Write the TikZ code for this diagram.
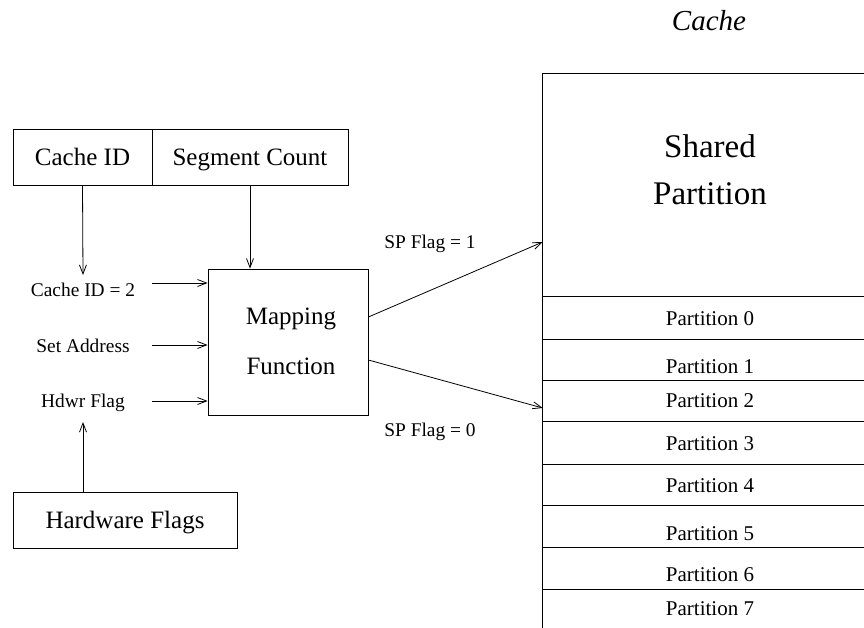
\documentclass[tikz,border=0pt]{standalone}
\usepackage{fontspec}
\setmainfont{Liberation Serif}
\usetikzlibrary{arrows.meta,calc}
\begin{document}
\begin{tikzpicture}[x=1pt,y=-1pt,
  line width=0.8pt,
  arr/.style={-{Straight Barb[length=9pt,width=7pt,line width=0.8pt]}},
  box/.style={draw,inner sep=0pt,text height=17pt,text depth=0pt,font=\fontsize{25}{30}\selectfont},
  small/.style={anchor=base,inner sep=0pt,font=\fontsize{19.4}{23}\selectfont},
  part/.style={anchor=base,inner sep=0pt,font=\fontsize{21}{25}\selectfont},
  big/.style={anchor=base,inner sep=0pt,font=\fontsize{33}{40}\selectfont},
  mid/.style={anchor=base,inner sep=0pt,font=\fontsize{25}{30}\selectfont}]
\useasboundingbox (0,0) rectangle (864,628);
\clip (0,0) rectangle (864,628);
% top boxes
\node[box,minimum width=139pt,minimum height=56pt] (cid) at (82.5,157) {Cache ID};
\node[box,minimum width=196pt,minimum height=56pt] (seg) at (250,157) {Segment Count};
% mapping function
\node[draw,inner sep=0pt,minimum width=160pt,minimum height=146pt] (map) at (288,342) {};
\node[mid] (mapA) at (291,324) {Mapping};
\node[mid] (mapB) at (291,374) {Function};
% input labels
\node[small] (cid2) at (83,296.7) {Cache ID = 2};
\node[small] (setaddr) at (83,352.7) {Set Address};
\node[small] (hdwr) at (83,407.7) {Hdwr Flag};
\coordinate (in1) at (152,283);
\coordinate (in2) at (152,345);
\coordinate (in3) at (152,401);
\coordinate (cidtip) at (83,275);
\coordinate (hdtip) at (83,422);
% hardware flags
\node[box,minimum width=224pt,minimum height=56pt] (hwf) at (125,520) {Hardware Flags};
% cache
\node[anchor=base,inner sep=0pt,font=\fontsize{29}{34}\selectfont\itshape] (cachelbl) at (709,31) {Cache};
\draw (542.7,73) rectangle (900,660);
\foreach \yy in {296.7,339,380,421.7,464,505,547.7,589}{
  \draw (542.7,\yy) -- (900,\yy);
}
\node[big] (shA) at (710,157.7) {Shared};
\node[big] (shB) at (710,205) {Partition};
\node[part] (p0) at (710,325) {Partition 0};
\node[part] (p1) at (710,373) {Partition 1};
\node[part] (p2) at (710,407) {Partition 2};
\node[part] (p3) at (710,450) {Partition 3};
\node[part] (p4) at (710,492) {Partition 4};
\node[part] (p5) at (710,540) {Partition 5};
\node[part] (p6) at (710,581.7) {Partition 6};
\node[part] (p7) at (710,615) {Partition 7};
\coordinate (sp1) at (542.7,242);
\coordinate (sp0) at (542.7,408);
\node[small] (spl1) at (430,249) {SP Flag = 1};
\node[small] (spl0) at (430,436) {SP Flag = 0};
% connectors
\draw[arr] (cid.south) -- (cidtip);
\draw[arr] (seg.south) -- (seg.south |- map.north);
\draw[arr] (in1) -- (in1 -| map.west);
\draw[arr] (in2) -- (in2 -| map.west);
\draw[arr] (in3) -- (in3 -| map.west);
\draw[arr] (hwf.north -| hdtip) -- (hdtip);
\draw[arr] ([yshift=25pt]map.east) -- (sp1);
\draw[arr] ([yshift=-18pt]map.east) -- (sp0);
\end{tikzpicture}
\end{document}
